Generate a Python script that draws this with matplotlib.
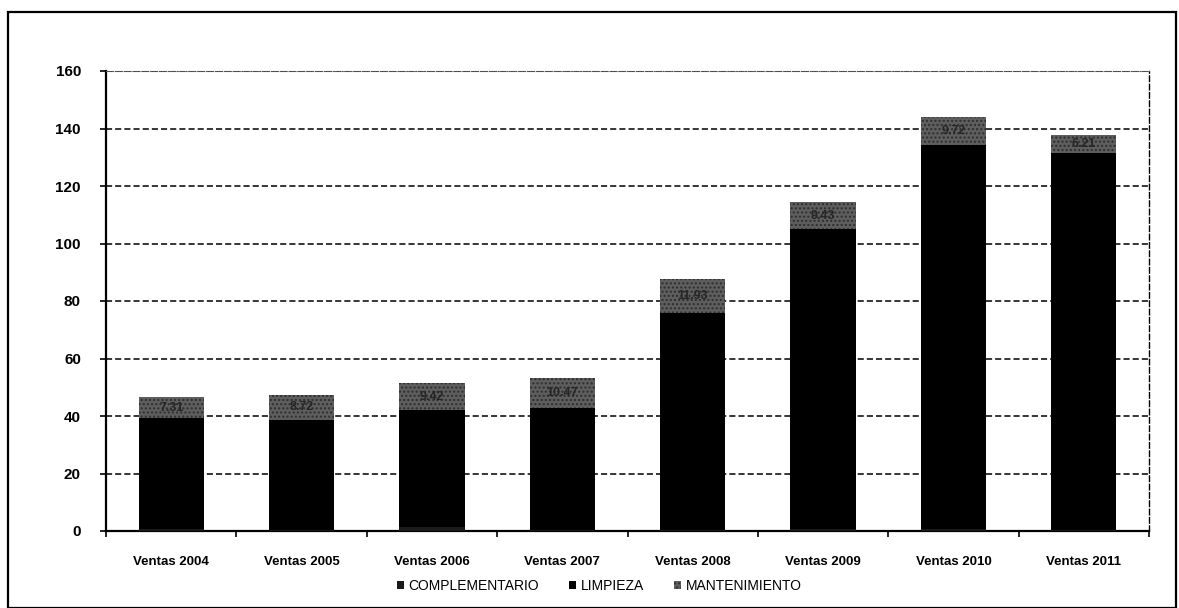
import numpy as np
import matplotlib.pyplot as plt
from matplotlib.patches import Rectangle

plt.rcParams['font.family'] = ['Liberation Sans', 'DejaVu Sans']

# Data
categorias = ['Ventas 2004', 'Ventas 2005', 'Ventas 2006', 'Ventas 2007',
              'Ventas 2008', 'Ventas 2009', 'Ventas 2010', 'Ventas 2011']
complementario = [0.70, 0.40, 1.27, 0.50, 0.50, 0.60, 0.60, 0.50]
limpieza = [38.6, 38.2, 40.8, 42.3, 75.3, 104.4, 133.7, 131.0]
mantenimiento = [7.31, 8.72, 9.42, 10.47, 11.93, 9.43, 9.72, 6.21]
yticks = [0, 20, 40, 60, 80, 100, 120, 140, 160]

W, H = 1179, 608
fig = plt.figure(figsize=(W / 100, H / 100), dpi=100)
ax = fig.add_axes([106 / W, 1 - 531 / H, (1149 - 106) / W, (531 - 71) / H])

x = np.arange(len(categorias))
ancho = 0.5
ax.bar(x, complementario, ancho, color='#1a1a1a', label='COMPLEMENTARIO', zorder=3)
ax.bar(x, limpieza, ancho, bottom=complementario, color='#000000',
       label='LIMPIEZA', zorder=3)
base = np.array(complementario) + np.array(limpieza)
ax.bar(x, mantenimiento, ancho, bottom=base, color='#5e5e5e', hatch='....',
       edgecolor='#2e2e2e', linewidth=0, label='MANTENIMIENTO', zorder=3)

# data labels inside the grey segment
for xi, b, m in zip(x, base, mantenimiento):
    ax.text(xi, b + m / 2, f'{m:.2f}', ha='center', va='center',
            fontsize=9, fontweight='bold', color='#262626', zorder=4)

ax.set_xlim(-0.5, len(categorias) - 0.5)
ax.set_ylim(0, 160)
ax.set_yticks(yticks)
ax.set_yticklabels([str(v) for v in yticks], fontsize=11, fontweight='bold')
ax.set_xticks(x)
ax.set_xticklabels(categorias, fontsize=9.5, fontweight='bold')
ax.tick_params(axis='x', length=0, pad=18)
ax.set_xticks(np.arange(-0.5, len(categorias), 1), minor=True)
ax.tick_params(axis='x', which='minor', length=4, direction='out', width=1.2)
ax.tick_params(axis='y', length=4, direction='out', width=1.2, pad=14)

ax.yaxis.grid(True, linestyle=(0, (4, 2)), color='black', linewidth=1.1, zorder=0)
ax.set_axisbelow(True)
for s in ['left', 'bottom']:
    ax.spines[s].set_linewidth(1.6)
ax.spines['top'].set_linestyle(':')
ax.spines['top'].set_color('#555555')
ax.spines['right'].set_linestyle((0, (4, 2)))
ax.spines['right'].set_linewidth(1.0)

leg = ax.legend(loc='upper center', bbox_to_anchor=(0.473, -0.078), ncol=3,
                frameon=False, fontsize=10, handlelength=0.5, handleheight=0.5,
                columnspacing=2.2, handletextpad=0.3)

# outer frame
fig.patches.append(Rectangle((8 / W, 0), (1176 - 8) / W, 1 - 12 / H,
                             transform=fig.transFigure, fill=False,
                             edgecolor='black', linewidth=1.6))

fig.savefig('out.png', dpi=100)
